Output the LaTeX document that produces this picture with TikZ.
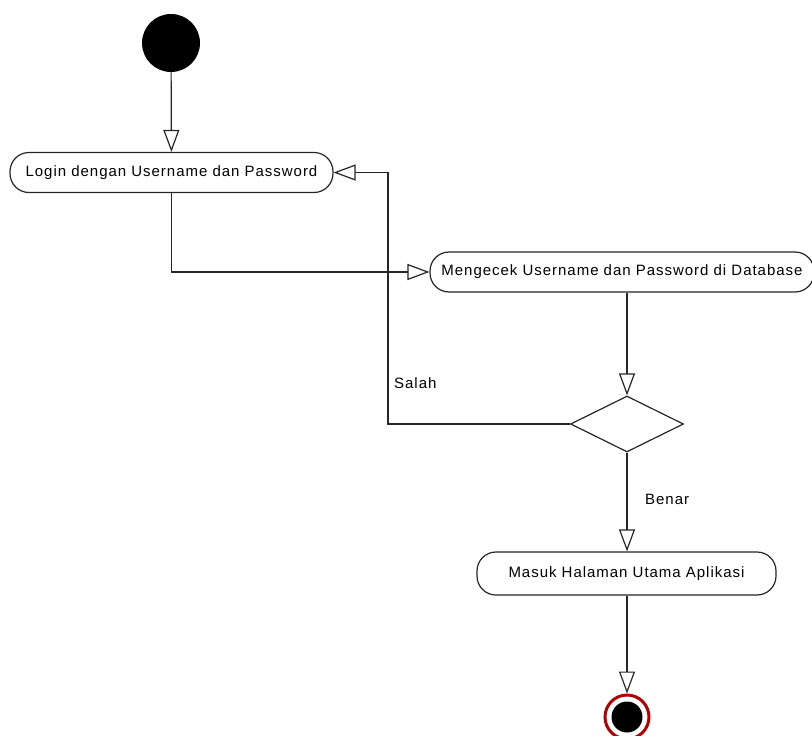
\documentclass[tikz,border=0pt]{standalone}
\usepackage{fontspec}
\setmainfont{Liberation Sans}
\newfontfamily\diagfont[LetterSpace=6.5]{Liberation Sans}
\usetikzlibrary{arrows.meta,shapes.geometric}
\begin{document}
\begin{tikzpicture}[x=1pt,y=-1pt,
  flow/.style={draw=black!85,line width=1.2pt,
    -{Triangle[open,length=22pt,width=16pt,line width=1.2pt]}},
  action/.style={draw=black!85,line width=1.2pt,rounded corners=19pt,fill=white,
    minimum height=40pt,inner sep=0pt,font=\diagfont\fontsize{15}{17}\selectfont},
  lbl/.style={font=\diagfont\fontsize{15}{17}\selectfont,anchor=west,inner sep=0pt}]
\useasboundingbox (0,0) rectangle (812,736);
% start and end points
\node[circle,fill=black,minimum size=58pt,inner sep=0pt] (start) at (171,43) {};
\node[circle,draw=red!70!black,line width=3pt,fill=white,minimum size=44pt,inner sep=0pt] (stop) at (627,717) {};
\fill[black] (stop.center) circle (15.5pt);
% actions
\node[action,minimum width=323pt] (login) at (171.5,172.5) {Login dengan Username dan Password};
\node[action,minimum width=384pt] (cek) at (622,272) {Mengecek Username dan Password di Database};
\node[action,minimum width=299pt,minimum height=43pt] (masuk) at (626.5,573.5) {Masuk Halaman Utama Aplikasi};
% decision
\node[diamond,draw=black!85,line width=1.2pt,fill=white,minimum width=113pt,minimum height=56pt,
  inner sep=0pt,aspect=2] (dec) at (627,424) {};
% flows
\draw[flow] (start) -- (login);
\draw[flow] (login.south) |- (cek.west);
\draw[flow] (cek.south -| dec.north) -- (dec.north);
\coordinate (back) at (388,424);
\draw[flow] (dec.west) -- (back) |- (login.east);
\draw[flow] (dec.south) -- (masuk.north -| dec.south);
\draw[flow] (masuk.south -| stop.north) -- (stop.north);
% guards
\node[lbl] (salah) at (394,383) {Salah};
\node[lbl] (benar) at (645,499) {Benar};
\end{tikzpicture}
\end{document}
